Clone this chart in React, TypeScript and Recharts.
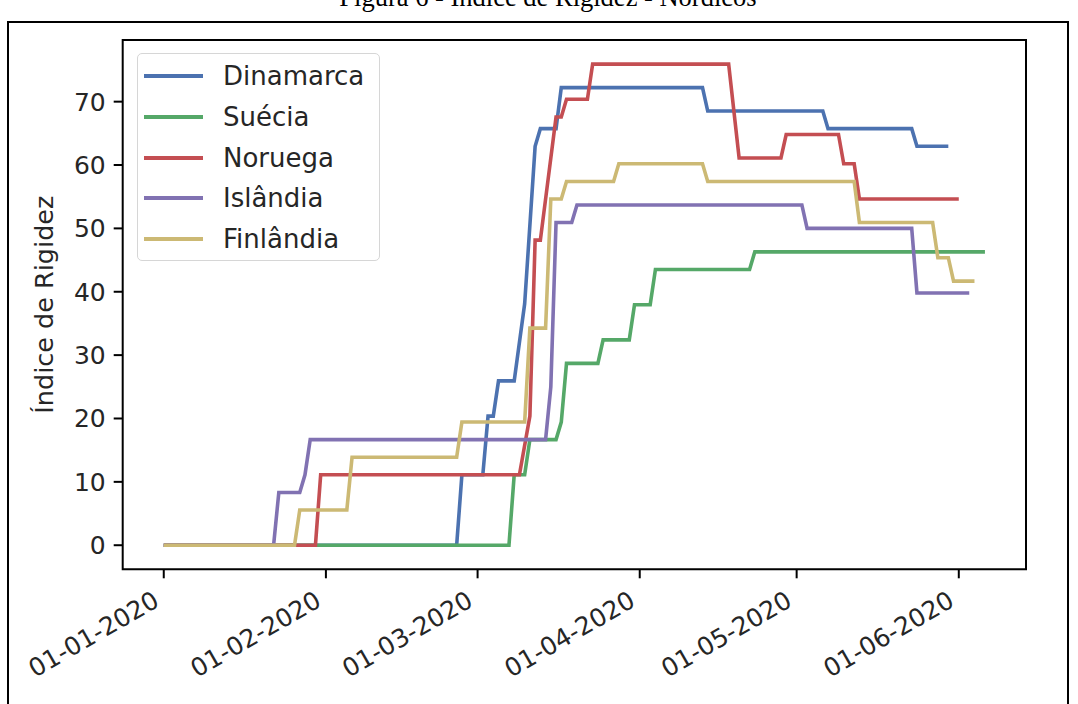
import React from "react";
import {
    LineChart,
    Line,
    XAxis,
    YAxis,
    Legend,
    ReferenceArea
} from "recharts";

// days since 01-01-2020 -> stringency index, only the days where the value changes
const dinamarca: [number, number][] = [
    [0, 0], [56, 0], [57, 11.11], [61, 11.11], [62, 20.37], [63, 20.37],
    [64, 25.93], [67, 25.93], [69, 38.1], [71, 62.96], [72, 65.74], [75, 65.74],
    [76, 72.22], [103, 72.22], [104, 68.52], [126, 68.52], [127, 65.74],
    [143, 65.74], [144, 62.96], [150, 62.96]
];

const suecia: [number, number][] = [
    [0, 0], [66, 0], [67, 11.11], [69, 11.11], [70, 16.67], [75, 16.67],
    [76, 19.44], [77, 28.7], [83, 28.7], [84, 32.41], [89, 32.41], [90, 37.96],
    [93, 37.96], [94, 43.52], [112, 43.52], [113, 46.3], [157, 46.3]
];

const noruega: [number, number][] = [
    [0, 0], [29, 0], [30, 11.11], [68, 11.11], [70, 20.37], [71, 48.15],
    [72, 48.15], [75, 67.59], [76, 67.59], [77, 70.37], [81, 70.37], [82, 75.93],
    [108, 75.93], [110, 61.11], [118, 61.11], [119, 64.81], [129, 64.81],
    [130, 60.19], [132, 60.19], [133, 54.63], [152, 54.63]
];

const islandia: [number, number][] = [
    [0, 0], [21, 0], [22, 8.33], [26, 8.33], [27, 11.11], [28, 16.67],
    [73, 16.67], [74, 25], [75, 50.93], [78, 50.93], [79, 53.7], [122, 53.7],
    [123, 50], [143, 50], [144, 39.81], [154, 39.81]
];

const finlandia: [number, number][] = [
    [0, 0], [25, 0], [26, 5.56], [35, 5.56], [36, 13.89], [56, 13.89],
    [57, 19.44], [69, 19.44], [70, 34.26], [73, 34.26], [74, 54.63], [76, 54.63],
    [77, 57.41], [86, 57.41], [87, 60.19], [103, 60.19], [104, 57.41],
    [132, 57.41], [133, 50.93], [147, 50.93], [148, 45.37], [150, 45.37],
    [151, 41.67], [155, 41.67]
];

const xTicks = [0, 31, 60, 91, 121, 152];
const xTickLabels = ["01-01-2020", "01-02-2020", "01-03-2020", "01-04-2020", "01-05-2020", "01-06-2020"];
const yTicks = [0, 10, 20, 30, 40, 50, 60, 70];

const series = [
    { name: "Dinamarca", color: "#4C72B0", points: dinamarca },
    { name: "Suécia", color: "#55A868", points: suecia },
    { name: "Noruega", color: "#C44E52", points: noruega },
    { name: "Islândia", color: "#8172B2", points: islandia },
    { name: "Finlândia", color: "#CCB974", points: finlandia }
];

const X_DOMAIN: [number, number] = [-7.85, 164.85];
const Y_DOMAIN: [number, number] = [-3.8, 79.73];
const FONT = "'DejaVu Sans', sans-serif";

const toPoints = (pts: [number, number][]) => pts.map(([d, v]) => ({ d, v }));

const DateTick = (props: any) => {
    const { x, y, payload } = props;
    const i = xTicks.indexOf(payload.value);
    return (
        <g transform={`translate(${x},${y})`}>
            <text
                x={-3}
                y={27}
                textAnchor="end"
                transform="rotate(-30 -3 27)"
                fontSize={25}
                fontFamily={FONT}
                fill="#262626"
            >
                {xTickLabels[i]}
            </text>
        </g>
    );
};

const LegendBox = () => (
    <div
        style={{
            position: "relative",
            width: 243,
            height: 208,
            border: "1.5px solid #d6d6d6",
            borderRadius: 5,
            background: "rgba(255,255,255,0.85)",
            boxSizing: "border-box",
            fontFamily: FONT
        }}
    >
        {series.map((s, i) => (
            <div
                key={s.name}
                style={{
                    position: "absolute",
                    left: 6,
                    top: 2 + i * 40.8,
                    height: 40,
                    display: "flex",
                    alignItems: "center"
                }}
            >
                <div style={{ width: 59, height: 4, background: s.color }} />
                <span style={{ marginLeft: 20, fontSize: 26, color: "#262626", whiteSpace: "nowrap" }}>
                    {s.name}
                </span>
            </div>
        ))}
    </div>
);

const App = () => {
    return (
        <div
            style={{
                position: "fixed",
                left: 0,
                top: 0,
                width: 1078,
                height: 704,
                overflow: "hidden",
                background: "#fff"
            }}
        >
            <div
                style={{
                    position: "absolute",
                    top: -18,
                    left: 0,
                    width: 1096,
                    textAlign: "center",
                    fontFamily: "'Liberation Serif', serif",
                    fontSize: 26.5,
                    whiteSpace: "nowrap"
                }}
            >
                Figura 6 - Índice de Rigidez - Nórdicos
            </div>
            <div
                style={{
                    position: "absolute",
                    left: 7,
                    top: 21,
                    width: 1062,
                    height: 720,
                    border: "2.5px solid #000",
                    boxSizing: "border-box"
                }}
            />
            <div style={{ position: "absolute", left: 0, top: 0 }}>
                <LineChart
                    width={1078}
                    height={704}
                    margin={{ top: 40, right: 52, left: 0, bottom: 0 }}
                >
                    <XAxis
                        dataKey="d"
                        type="number"
                        domain={X_DOMAIN}
                        ticks={xTicks}
                        allowDataOverflow
                        height={134.7}
                        axisLine={false}
                        tickLine={{ stroke: "#000", strokeWidth: 2 }}
                        tickSize={9}
                        tickMargin={0}
                        tick={<DateTick />}
                        interval={0}
                    />
                    <YAxis
                        type="number"
                        domain={Y_DOMAIN}
                        ticks={yTicks}
                        allowDataOverflow
                        width={122.7}
                        axisLine={false}
                        tickLine={{ stroke: "#000", strokeWidth: 2 }}
                        tickSize={9}
                        tickMargin={8}
                        tick={{ fontSize: 25, fontFamily: FONT, fill: "#262626" }}
                        interval={0}
                        label={{
                            content: (p: any) => {
                                const vb = p.viewBox;
                                const cy = vb.y + vb.height / 2;
                                return (
                                    <text
                                        x={53}
                                        y={cy}
                                        textAnchor="middle"
                                        transform={`rotate(-90 53 ${cy})`}
                                        fontSize={25.5}
                                        fontFamily={FONT}
                                        fill="#262626"
                                    >
                                        Índice de Rigidez
                                    </text>
                                );
                            }
                        }}
                    />
                    {series.map((s) => (
                        <Line
                            key={s.name}
                            data={toPoints(s.points)}
                            dataKey="v"
                            name={s.name}
                            type="linear"
                            stroke={s.color}
                            strokeWidth={3.6}
                            dot={false}
                            activeDot={false}
                            isAnimationActive={false}
                        />
                    ))}
                    <ReferenceArea
                        x1={X_DOMAIN[0]}
                        x2={X_DOMAIN[1]}
                        y1={Y_DOMAIN[0]}
                        y2={Y_DOMAIN[1]}
                        fill="none"
                        stroke="#000"
                        strokeWidth={2}
                        ifOverflow="visible"
                    />
                    <Legend
                        layout="vertical"
                        align="center"
                        verticalAlign="middle"
                        content={<LegendBox />}
                        wrapperStyle={{ left: 137, top: 53, width: 243, height: 208 }}
                    />
                </LineChart>
            </div>
        </div>
    );
};

export default App;
